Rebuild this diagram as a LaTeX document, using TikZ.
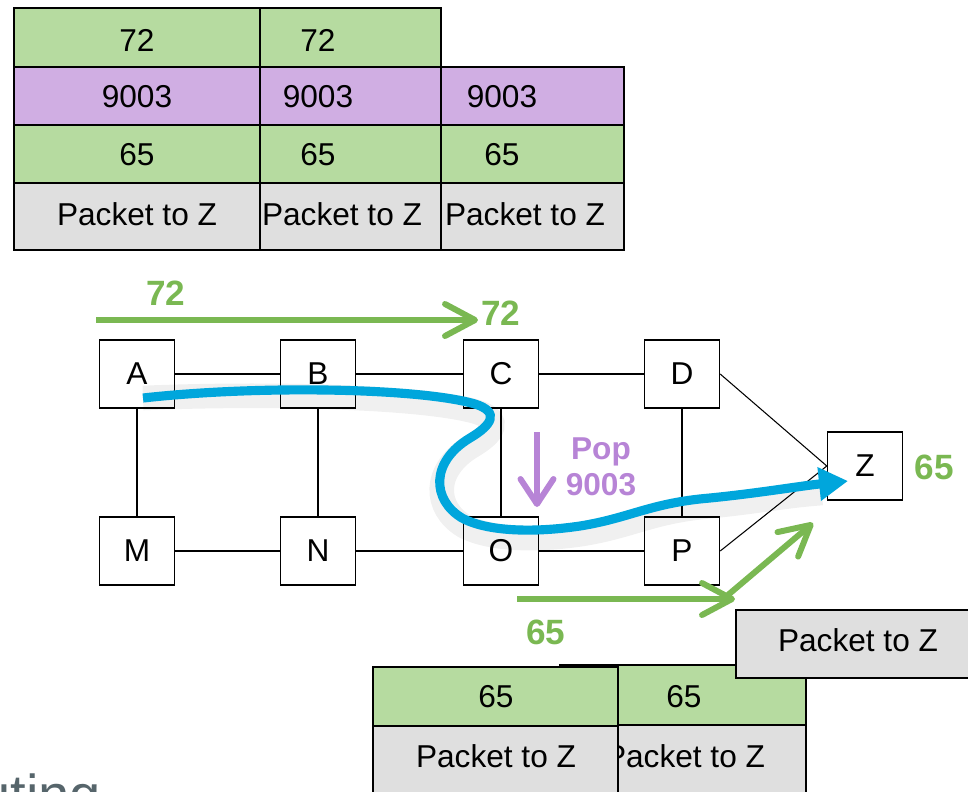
\documentclass[tikz,border=0pt]{standalone}
\usepackage{fontspec}
\setmainfont{Liberation Sans}
\usetikzlibrary{arrows.meta}
\definecolor{cellgreen}{HTML}{B6DBA0}
\definecolor{cellpurple}{HTML}{D0AEE3}
\definecolor{cellgray}{HTML}{DFDFDF}
\definecolor{labgreen}{HTML}{7AB852}
\definecolor{labpurple}{HTML}{B784D6}
\definecolor{pathblue}{HTML}{00A6DC}
\definecolor{titlegray}{HTML}{56656B}
\tikzset{
  router/.style={draw, fill=white, line width=0.8pt, minimum width=1.5cm,
    minimum height=1.36cm, inner sep=0pt, font=\fontsize{18}{22}\selectfont},
  link/.style={line width=0.6pt},
  green cell/.style={draw, fill=cellgreen, line width=0.9pt},
  purple cell/.style={draw, fill=cellpurple, line width=0.9pt},
  gray cell/.style={draw, fill=cellgray, line width=0.9pt},
  cell text/.style={font=\fontsize{18}{22}\selectfont},
  green label/.style={text=labgreen, font=\bfseries\fontsize{20}{24}\selectfont},
  green arrow/.style={labgreen, line width=3.4pt,
    -{Straight Barb[length=0.6cm, width=0.64cm, round]}},
}
\begin{document}
\begin{tikzpicture}[x=0.02cm, y=-0.02cm]
    \useasboundingbox (0,0) rectangle (968,792);
    \clip (0,0) rectangle (968,792);

    % Label stacks on top
    \fill[green cell] (14,8) rectangle (260,67); \fill[green cell] (260,8)
    rectangle (441,67); \draw[purple cell] (14,67) rectangle (260,125);
    \draw[purple cell] (260,67) rectangle (441,125); \draw[purple cell]
    (441,67) rectangle (624,125); \draw[green cell] (14,125) rectangle
    (260,183); \draw[green cell] (260,125) rectangle (441,183);
    \draw[green cell] (441,125) rectangle (624,183); \draw[gray cell]
    (14,183) rectangle (260,250); \draw[gray cell] (260,183) rectangle
    (441,250); \draw[gray cell] (441,183) rectangle (624,250);
    \draw[line width=0.9pt] (14,8) rectangle (260,67) (260,8) rectangle (441,67);

    \node[cell text] (t1a) at (137,40) {72}; \node[cell text] (t1b) at
    (137,97) {9003}; \node[cell text] (t1c) at (137,155) {65};
    \node[cell text] (t1d) at (137,214) {Packet to Z};
    \node[cell text] (t2a) at (318,40) {72}; \node[cell text] (t2b) at
    (318,97) {9003}; \node[cell text] (t2c) at (318,155) {65};
    \node[cell text] (t2d) at (342,214) {Packet to Z};
    \node[cell text] (t3b) at (502,97) {9003}; \node[cell text] (t3c) at
    (502,155) {65}; \node[cell text] (t3d) at (525,214) {Packet to Z};

    % Define node positions
    \node[router] (A) at (137,374) {A}; \node[router] (B) at (318,374) {B};
    \node[router] (C) at (501,374) {C}; \node[router] (D) at (682,374) {D};
    \node[router] (M) at (137,551) {M}; \node[router] (N) at (318,551) {N};
    \node[router] (O) at (501,551) {O}; \node[router] (P) at (682,551) {P};
    \node[router] (Z) at (865,466) {Z};

    % Draw links
    \draw[link] (A) -- (B); \draw[link] (B) -- (C); \draw[link] (C) -- (D);
    \draw[link] (M) -- (N); \draw[link] (N) -- (O); \draw[link] (O) -- (P);
    \draw[link] (A) -- (M); \draw[link] (B) -- (N); \draw[link] (C) -- (O);
    \draw[link] (D) -- (P); \draw[link] (D.east) -- (Z.west);
    \draw[link] (P.east) -- (Z.west);

    % Label arrows
    \coordinate (s72) at (96,320); \coordinate (e72) at (478,320);
    \draw[green arrow] (s72) -- (e72);
    \node[green label] (l72a) at (166,293) {72};
    \node[green label] (l72b) at (501,313) {72};
    \coordinate (s65) at (517,599); \coordinate (e65) at (735,599);
    \draw[green arrow] (s65) -- (e65);
    \coordinate (d65) at (722,600); \coordinate (z65) at (813,523);
    \draw[green arrow] (d65) -- (z65);
    \node[green label] (l65a) at (546,632) {65};
    \node[green label] (l65b) at (934,467) {65};

    % Pop arrow
    \coordinate (popS) at (537,432); \coordinate (popE) at (537,507);
    \draw[labpurple, line width=3.4pt,
      -{Straight Barb[length=0.5cm, width=0.66cm, round]}] (popS) -- (popE);
    \node[text=labpurple, align=center, font=\bfseries\fontsize{18}{20.5}\selectfont]
      (pop) at (601,467) {Pop\\9003};

    % Path of the packet
    \coordinate (go) at (143,398); \coordinate (arrive) at (848,481);
    \draw[black, opacity=0.06, line width=14pt, shift={(2,8)}] (go)
      .. controls (260,385) and (420,388) .. (475,404)
      .. controls (500,412) and (492,425) .. (470,438)
      .. controls (430,462) and (432,500) .. (462,518)
      .. controls (490,533) and (540,532) .. (580,526)
      .. controls (630,518) and (650,503) .. (710,498)
      .. controls (760,493) and (780,488) .. (820,485);
    \draw[pathblue, line width=5.2pt, -{Triangle[length=0.58cm, width=0.64cm]}] (go)
      .. controls (260,385) and (420,388) .. (475,404)
      .. controls (500,412) and (492,425) .. (470,438)
      .. controls (430,462) and (432,500) .. (462,518)
      .. controls (490,533) and (540,532) .. (580,526)
      .. controls (630,518) and (650,503) .. (710,498)
      .. controls (760,493) and (800,486) .. (arrive);

    % Stacks at the bottom
    \draw[green cell] (560,665) rectangle (806,725);
    \draw[gray cell] (560,725) rectangle (806,800);
    \node[cell text] (b2a) at (684,697) {65};
    \node[cell text] (b2b) at (685,756) {Packet to Z};
    \draw[green cell] (373,667) rectangle (618,726);
    \draw[gray cell] (373,726) rectangle (618,800);
    \node[cell text] (b1a) at (496,697) {65};
    \node[cell text] (b1b) at (496,756) {Packet to Z};
    \draw[gray cell] (736,610) rectangle (975,678);
    \node[cell text] (pz) at (858,640) {Packet to Z};

    % Cut-off slide title
    \node[anchor=base west, inner sep=0pt, text=titlegray,
      font=\fontsize{32}{36}\selectfont] (title) at (-21,814) {uting};
\end{tikzpicture}
\end{document}
